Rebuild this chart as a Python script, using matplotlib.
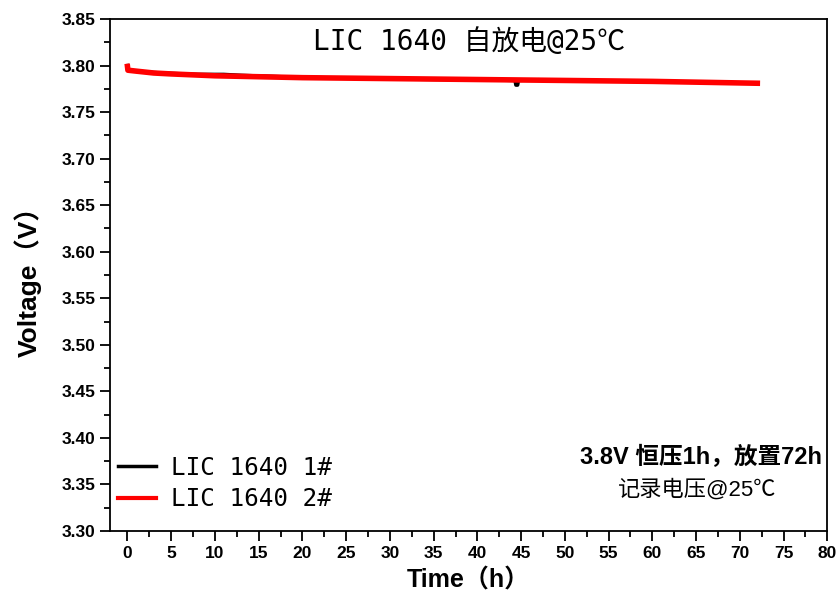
import matplotlib
matplotlib.use("Agg")
import matplotlib.pyplot as plt
from matplotlib.ticker import MultipleLocator

plt.rcParams['font.family'] = ['Liberation Sans', 'Noto Sans CJK SC', 'DejaVu Sans']

# sample 1# (black) and 2# (red): time (h) and voltage (V)
t1 = [0, 0.05, 1, 3, 5, 8, 11, 13, 16, 19, 25, 30, 40, 44.3, 44.4, 44.6, 44.7, 47, 50, 55, 60, 68, 72]
v1 = [3.800, 3.7955, 3.794, 3.7925, 3.7915, 3.7905, 3.7905, 3.7895, 3.7885, 3.7875, 3.7865, 3.7855,
      3.7848, 3.784, 3.779, 3.779, 3.784, 3.7848, 3.7838, 3.7835, 3.7826, 3.7818, 3.781]
t2 = [0, 0.05, 1, 3, 5, 10, 15, 20, 30, 40, 50, 60, 72]
v2 = [3.799, 3.795, 3.794, 3.792, 3.791, 3.789, 3.788, 3.787, 3.786, 3.785, 3.784, 3.783, 3.781]
labels = ['LIC 1640 1#', 'LIC 1640 2#']

fig = plt.figure(figsize=(8.37, 5.94), dpi=100)
ax = fig.add_axes([0.1314, 0.106, 0.857, 0.862])

ax.plot(t1, v1, color='black', lw=2.5, label=labels[0])
ax.plot(t2, v2, color='red', lw=4, label=labels[1])

ax.set_xlim(-2, 80)
ax.set_ylim(3.30, 3.85)
ax.xaxis.set_major_locator(MultipleLocator(5))
ax.xaxis.set_minor_locator(MultipleLocator(2.5))
ax.yaxis.set_major_locator(MultipleLocator(0.05))
ax.yaxis.set_minor_locator(MultipleLocator(0.025))
ax.yaxis.set_major_formatter(matplotlib.ticker.FormatStrFormatter('%.2f'))
ax.tick_params(which='both', direction='out', width=1.3)
ax.tick_params(which='major', length=7, labelsize=12.5)
ax.tick_params(which='minor', length=4)
for lab in ax.get_xticklabels() + ax.get_yticklabels():
    lab.set_fontweight('bold')
for s in ax.spines.values():
    s.set_linewidth(1.3)

ax.set_xlabel('Time（h）', fontsize=18, fontweight='bold', labelpad=6)
ax.set_ylabel('Voltage（V）', fontsize=19, fontweight='bold', labelpad=14)

mono = ['DejaVu Sans Mono', 'Noto Sans CJK SC']
ax.text(0.5, 0.955, 'LIC 1640 自放电@25℃', transform=ax.transAxes, ha='center', va='center',
        fontsize=20, family=mono)

ax.text(0.993, 0.143, '3.8V 恒压1h，放置72h', transform=ax.transAxes, ha='right', va='center',
        fontsize=17, fontweight='bold')
ax.text(0.819, 0.080, '记录电压@25℃', transform=ax.transAxes, ha='center', va='center',
        fontsize=16)

leg = ax.legend(loc='lower left', bbox_to_anchor=(-0.003, 0.02), frameon=False,
                prop={'family': mono, 'size': 17.5}, handlelength=1.6, handletextpad=0.6,
                labelspacing=0.3, borderaxespad=0)
leg.get_lines()[1].set_linewidth(3)

fig.savefig('out.png', dpi=100)
